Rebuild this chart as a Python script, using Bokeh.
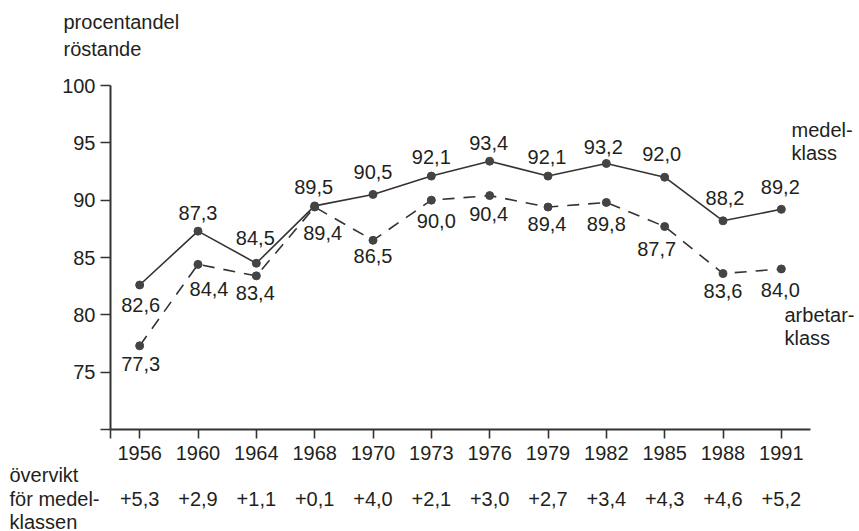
from bokeh.plotting import figure
from bokeh.models import Range1d, FixedTicker, LinearAxis, Label, ColumnDataSource
from bokeh.core.properties import value
from bokeh.embed import file_html
from bokeh.resources import INLINE

# ---- data ----
years = ["1956", "1960", "1964", "1968", "1970", "1973", "1976", "1979", "1982", "1985", "1988", "1991"]
medelklass = [82.6, 87.3, 84.5, 89.5, 90.5, 92.1, 93.4, 92.1, 93.2, 92.0, 88.2, 89.2]
arbetarklass = [77.3, 84.4, 83.4, 89.4, 86.5, 90.0, 90.4, 89.4, 89.8, 87.7, 83.6, 84.0]
overvikt = ["+5,3", "+2,9", "+1,1", "+0,1", "+4,0", "+2,1", "+3,0", "+2,7", "+3,4", "+4,3", "+4,6", "+5,2"]
y_ticks = [75, 80, 85, 90, 95, 100]
y_floor = 70

# ---- label placement (screen px offsets, y down) ----
medel_dx = [1, 0, -1, -1, 0, 0, -1, -1, -3, -3, 2, -1]
medel_dy = [20, -18, -25, -19, -22, -19, -18, -19, -16, -23, -23, -22]
arb_dx = [1, 11, -1, 8, 0, 5, -1, -1, 0, -8, 0, -1]
arb_dy = [18, 25, 17, 26, 16, 21, 18, 17, 22, 22, 17, 21]

FONT = "Liberation Sans"
FS = "20px"
TXT = "#231f20"
INK = "#333333"
W, H = 859, 531
# plot area of the axes inside the canvas (px): x 110..810, y 85..429
AX_L, AX_R, AX_T, AX_B = 110, 810, 85, 429

n = len(years)
idx = list(range(n))
fmt = lambda v: f"{v:.1f}".replace(".", ",")

x_lo, x_hi = -0.5, n - 0.5
y_lo, y_hi = y_floor, y_ticks[-1]
ppx = (AX_R - AX_L) / (x_hi - x_lo)
ppy = (AX_B - AX_T) / (y_hi - y_lo)
x_range = Range1d(x_lo - AX_L / ppx, x_hi + (W - AX_R) / ppx)
y_range = Range1d(y_lo - (H - AX_B) / ppy, y_hi + AX_T / ppy)

p = figure(width=W, height=H, x_range=x_range, y_range=y_range,
           output_backend="svg", toolbar_location=None, x_axis_type=None, y_axis_type=None,
           min_border=0, min_border_left=0, min_border_right=0, min_border_top=0, min_border_bottom=0)
p.outline_line_color = None
p.background_fill_color = "white"
p.border_fill_color = "white"

def style_axis(ax):
    ax.axis_line_color = INK
    ax.axis_line_width = 2
    ax.major_tick_line_color = INK
    ax.major_tick_line_width = 1.6
    ax.major_tick_in = 0
    ax.minor_tick_line_color = None
    ax.major_label_text_font = FONT
    ax.major_label_text_font_size = FS
    ax.major_label_text_color = TXT

yaxis = LinearAxis(ticker=FixedTicker(ticks=[y_floor] + y_ticks),
                   major_label_overrides={y_floor: ""},
                   fixed_location=x_lo, bounds=(y_lo, y_hi))
style_axis(yaxis)
yaxis.major_tick_out = 10
yaxis.major_label_standoff = 5
p.add_layout(yaxis, "left")

xaxis = LinearAxis(ticker=FixedTicker(ticks=[x_lo] + idx),
                   major_label_overrides={**{x_lo: ""}, **{i: y for i, y in zip(idx, years)}},
                   fixed_location=y_lo, bounds=(x_lo, x_hi))
style_axis(xaxis)
xaxis.major_tick_out = 9
xaxis.major_label_standoff = 7
p.add_layout(xaxis, "below")

x2 = LinearAxis(ticker=FixedTicker(ticks=idx),
                major_label_overrides={i: o for i, o in zip(idx, overvikt)},
                fixed_location=y_lo, bounds=(x_lo, x_hi))
style_axis(x2)
x2.axis_line_color = None
x2.major_tick_line_color = None
x2.major_tick_out = 0
x2.major_label_standoff = 62
p.add_layout(x2, "below")

# ---- series ----
p.line(idx, medelklass, line_color=INK, line_width=1.6)
p.line(idx, arbetarklass, line_color=INK, line_width=1.6, line_dash="12 9")
p.scatter(idx, medelklass, size=8, fill_color="#444444", line_color="#444444")
p.scatter(idx, arbetarklass, size=8, fill_color="#444444", line_color="#444444")

src_m = ColumnDataSource(dict(x=idx, y=medelklass, t=[fmt(v) for v in medelklass], dx=medel_dx, dy=medel_dy))
src_a = ColumnDataSource(dict(x=idx, y=arbetarklass, t=[fmt(v) for v in arbetarklass], dx=arb_dx, dy=arb_dy))
for src in (src_m, src_a):
    p.text(x="x", y="y", text="t", x_offset="dx", y_offset="dy", source=src,
           text_align="center", text_baseline="middle", text_font=value(FONT),
           text_font_size=FS, text_color=TXT)

# ---- free texts: canvas px from top-left (screen units: frame-relative, y up) ----
def add_label(text, cx, cy, align="left"):
    p.add_layout(Label(x=cx, y=H - cy, x_units="screen", y_units="screen", text=text,
                       text_align=align, text_baseline="middle", text_font=FONT,
                       text_font_size=FS, text_color=TXT))

add_label("procentandel", 63, 21)
add_label("röstande", 63, 48)
add_label("medel-", 791, 129)
add_label("klass", 791, 152)
add_label("arbetar-", 784, 314)
add_label("klass", 784, 337)
add_label("övervikt", 9, 474)
add_label("för medel-", 9, 498)
add_label("klassen", 9, 521)

open("out.html", "w").write(file_html(p, INLINE))
